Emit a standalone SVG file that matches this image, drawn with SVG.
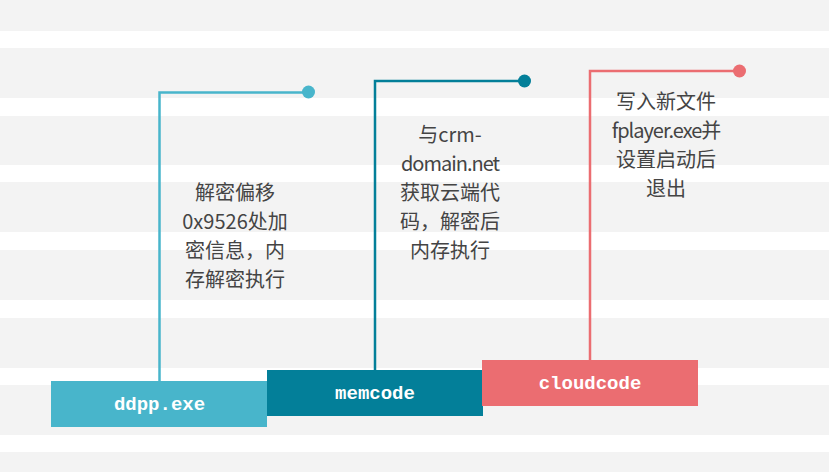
<svg xmlns="http://www.w3.org/2000/svg" width="829" height="472" viewBox="0 0 829 472">
  <style>
    .stripe { fill: #f3f3f3; }
    .desc { font-family: "Noto Sans CJK SC", "Noto Sans", sans-serif; font-size: 20px; fill: #444444; text-anchor: middle; }
    .tight { letter-spacing: -1px; }
    .label { font-family: "Liberation Mono", "Courier New", monospace; font-weight: bold; font-size: 19px; fill: #ffffff; text-anchor: middle; }
    .conn { fill: none; stroke-width: 2.5; }
  </style>
  <g id="background">
    <rect x="0" y="0" width="829" height="472" fill="#ffffff"/>
    <rect class="stripe" x="0" y="0" width="829" height="31"/>
    <rect class="stripe" x="0" y="48" width="829" height="50"/>
    <rect class="stripe" x="0" y="116" width="829" height="49"/>
    <rect class="stripe" x="0" y="182" width="829" height="50"/>
    <rect class="stripe" x="0" y="250" width="829" height="50"/>
    <rect class="stripe" x="0" y="318" width="829" height="50"/>
    <rect class="stripe" x="0" y="385" width="829" height="50"/>
    <rect class="stripe" x="0" y="452" width="829" height="20"/>
  </g>
  <g id="connectors">
    <polyline class="conn" stroke="#48b5cb" points="159.5,381 159.5,92.5 308,92.5"/>
    <circle cx="308.5" cy="92" r="6.5" fill="#48b5cb"/>
    <polyline class="conn" stroke="#037f99" points="375,370 375,81 524,81"/>
    <circle cx="524.5" cy="81" r="6.5" fill="#037f99"/>
    <polyline class="conn" stroke="#eb6d71" points="590,360 590,71 739,71"/>
    <circle cx="739.5" cy="71" r="6.5" fill="#eb6d71"/>
  </g>
  <g id="ddpp">
    <rect x="51" y="381" width="216" height="46" fill="#48b5cb"/>
    <text class="label" x="159.5" y="410">ddpp.exe</text>
    <text class="desc" x="235" y="200">解密偏移</text>
    <text class="desc" x="235" y="229">0x9526处加</text>
    <text class="desc" x="235" y="258">密信息，内</text>
    <text class="desc" x="235" y="287">存解密执行</text>
  </g>
  <g id="memcode">
    <rect x="267" y="370" width="216" height="46" fill="#037f99"/>
    <text class="label" x="375" y="399">memcode</text>
    <text class="desc" x="450" y="142">与crm-</text>
    <text class="desc tight" x="450" y="171">domain.net</text>
    <text class="desc" x="450" y="200">获取云端代</text>
    <text class="desc" x="450" y="229">码，解密后</text>
    <text class="desc" x="450" y="258">内存执行</text>
  </g>
  <g id="cloudcode">
    <rect x="482" y="360" width="216" height="46" fill="#eb6d71"/>
    <text class="label" x="590" y="389">cloudcode</text>
    <text class="desc" x="666" y="109">写入新文件</text>
    <text class="desc tight" x="666" y="138">fplayer.exe并</text>
    <text class="desc" x="666" y="167">设置启动后</text>
    <text class="desc" x="666" y="196">退出</text>
  </g>
</svg>
